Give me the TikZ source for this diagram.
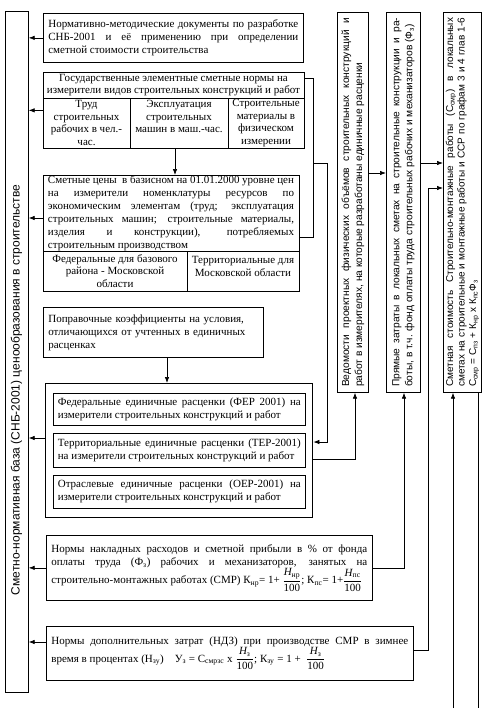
\documentclass[tikz,border=0pt]{standalone}
\usepackage{amsmath}
\usepackage{fontspec}
\setmainfont{Liberation Serif}
\setsansfont{Liberation Sans}
\usetikzlibrary{arrows.meta,calc}
\newcommand{\serfont}{\fontsize{11}{13}\selectfont}
\newcommand{\headfont}{\fontsize{11}{12}\selectfont}
\newcommand{\cellfont}{\fontsize{11}{12.6}\selectfont}
\newcommand{\colfont}{\sffamily\fontsize{10.2}{13}\selectfont}
\newcommand{\colfontb}{\sffamily\fontsize{10}{11.5}\selectfont}
\newcommand{\fracH}[1]{$\dfrac{\text{\itshape H}_{\text{#1}}}{\text{100}}$}
\hyphenpenalty=10000
\tikzset{
  tbox/.style={draw, line width=0.7pt, inner xsep=4pt, inner ysep=0pt, anchor=north west, font=\serfont, align=justify},
  frame/.style={draw, line width=0.7pt, inner sep=0pt, anchor=north west},
  txt/.style={inner sep=0pt, font=\cellfont, align=center},
  arr/.style={-{Latex[length=6pt,width=4.5pt]}, line width=0.7pt},
  ln/.style={line width=0.7pt},
  coltxt/.style={rotate=90, text width=369pt, align=justify, inner sep=0pt, font=\colfont},
}
\begin{document}
\begin{tikzpicture}[x=1pt,y=-1pt]
\useasboundingbox (0,0) rectangle (497,716);
\fill[white] (0,0) rectangle (497,716);

% left big box
\node[frame, minimum width=23pt, minimum height=681pt] (L) at (5,11) {};
\node[rotate=90, inner sep=0pt, font=\sffamily\fontsize{12}{14}\selectfont] (Lt) at (16.5,390) {Сметно-нормативная база (СНБ-2001) ценообразования в строительстве};

% box 1
\node[tbox, minimum width=260pt, minimum height=49pt, text width=250pt] (b1) at (43,13) {Нормативно-методические документы по разработке\linebreak СНБ-2001 и её применению при определении\linebreak сметной стоимости строительства};

% box 2 (table)
\node[frame, minimum width=261pt, minimum height=76pt] (b2) at (43,72) {};
\node[txt, font=\headfont] (b2h) at (173.5,85.5) {Государственные элементные сметные нормы на\\измерители видов строительных конструкций и работ};
\draw[ln] (b2.west |- 0,98) -- (b2.east |- 0,98);
\draw[ln] (130,98) -- (130,148);
\draw[ln] (228,98) -- (228,148);
\node[txt] (b2a) at (86.5,123) {Труд\\строительных\\рабочих в чел.-\\час.};
\node[txt] (b2b) at (179,116.5) {Эксплуатация\\строительных\\машин в маш.-час.};
\node[txt] (b2c) at (266,123) {Строительные\\материалы в\\физическом\\измерении};

% box 3
\node[frame, minimum width=256pt, minimum height=116pt] (b3) at (43,175) {};
\node[inner sep=0pt, font=\serfont, text width=246pt, align=justify] (b3t) at (171,213) {Сметные цены\ \ в базисном на 01.01.2000 уровне цен\linebreak на измерители номенклатуры ресурсов по\linebreak экономическим элементам (труд; эксплуатация\linebreak строительных машин; строительные материалы,\linebreak изделия и конструкции), потребляемых\linebreak строительным производством};
\draw[ln] (b3.west |- 0,251) -- (b3.east |- 0,251);
\draw[ln] (187,251) -- (187,291);
\node[txt] (b3a) at (115,271) {Федеральные для базового\\района - Московской\\области};
\node[txt] (b3b) at (243,266.5) {Территориальные для\\Московской области};

% box 4
\node[tbox, align=left, minimum width=220pt, minimum height=50pt, text width=210pt] (b4) at (43,307) {Поправочные коэффициенты на условия,\\отличающихся от учтенных в единичных\\расценках};

% outer group
\node[frame, line width=1.4pt, minimum width=267pt, minimum height=134pt] (O) at (45,383) {};
\node[tbox, minimum width=252pt, minimum height=32pt, text width=243pt] (fer) at (53,393) {Федеральные единичные расценки (ФЕР 2001) на\linebreak измерители строительных конструкций и работ};
\node[tbox, minimum width=252pt, minimum height=34pt, text width=243pt] (ter) at (53,433) {Территориальные единичные расценки (ТЕР-2001)\linebreak на измерители строительных конструкций и работ};
\node[tbox, minimum width=252pt, minimum height=33pt, text width=243pt] (oer) at (53,475) {Отраслевые единичные расценки (ОЕР-2001) на\linebreak измерители строительных конструкций и работ};

% nakladnye
\node[tbox, minimum width=326pt, minimum height=65pt, text width=316pt] (N) at (46,535) {Нормы накладных расходов и сметной прибыли в \% от фонда\linebreak оплаты труда (Ф\textsubscript{з}) рабочих и механизаторов, занятых на\linebreak строительно-монтажных работах (СМР) К\textsubscript{нр}= 1+ \fracH{нр}; К\textsubscript{пс}= 1+\fracH{пс}};

% NDZ
\node[tbox, minimum width=367pt, minimum height=54pt, text width=357pt] (D) at (46,626) {Нормы дополнительных затрат (НДЗ) при производстве СМР в зимнее\linebreak время в процентах (Н\textsubscript{зу})\quad У\textsubscript{з} = С\textsubscript{смрзс} х \fracH{з}; К\textsubscript{зу} = 1 + \ \fracH{з}};

% columns
\node[frame, minimum width=31pt, minimum height=380pt] (C1) at (337,12) {};
\node[coltxt] (C1t) at (C1.center) {Ведомости проектных физических объёмов строительных конструкций и\linebreak работ в измерителях, на которые разработаны единичные расценки};
\node[frame, minimum width=34pt, minimum height=380pt] (C2) at (386,12) {};
\node[coltxt] (C2t) at (C2.center) {Прямые затраты в локальных сметах на строительные конструкции и ра-\linebreak боты, в т.ч. фонд оплаты труда строительных рабочих и механизаторов (Ф\textsubscript{з})};
\node[frame, minimum width=38pt, minimum height=380pt] (C3) at (443,12) {};
\node[coltxt, font=\colfontb] (C3t) at (C3.center) {Сметная стоимость Строительно-монтажные работы (С\textsubscript{смр}) в локальных\linebreak сметах на строительные и монтажные работы и ССР по графам 3 и 4 глав 1-6\linebreak С\textsubscript{смр} = С\textsubscript{пз} + К\textsubscript{нр} х К\textsubscript{пс}Ф\textsubscript{з}};

% arrows to left box
\draw[arr] (b1.west) -- (b1.west -| L.east);
\draw[arr] (b2.west) -- (b2.west -| L.east);
\draw[arr] (b3.west |- 0,218) -- (L.east |- 0,218);
\draw[arr] (O.west |- 0,438) -- (L.east |- 0,438);
\draw[arr] (N.west) -- (N.west -| L.east);
\draw[arr] (D.west |- 0,642) -- (L.east |- 0,642);

% vertical arrows
\draw[arr] (b2.south -| 175,0) -- (b3.north -| 175,0);
\draw[arr] (b4.south -| 167,0) -- (O.north -| 167,0);

% merge from b2 and b3 to outer group
\coordinate (j1) at (313,163);
\draw[ln] (b2.east |- 0,78) -| (j1);
\draw[ln] (b3.east |- 0,237) -| (j1);
\draw[arr] (j1) -- (327,163) -- (327,442) -- (O.east |- 0,442);

% outer group to C1
\draw[arr] (O.east |- 0,459) -| (C1.south -| 355,0);
% column links
\draw[arr] (C1.east |- 0,173) -- (C2.west |- 0,173);
\draw[arr] (C2.east |- 0,163) -- (C3.west |- 0,163);
% nakladnye to C2
\draw[arr] (N.east) -| (C2.south -| 404,0);
% NDZ to C3
\draw[arr] (D.east |- 0,650) -| (428,188) -- (C3.west |- 0,188);
% bottom lines of C3
\coordinate (in3) at (453,708);
\coordinate (out3) at (478,708);
\draw[arr] (in3) -- (C3.south -| in3);
\draw[ln] (C3.south -| out3) -- (out3);
\end{tikzpicture}
\end{document}
